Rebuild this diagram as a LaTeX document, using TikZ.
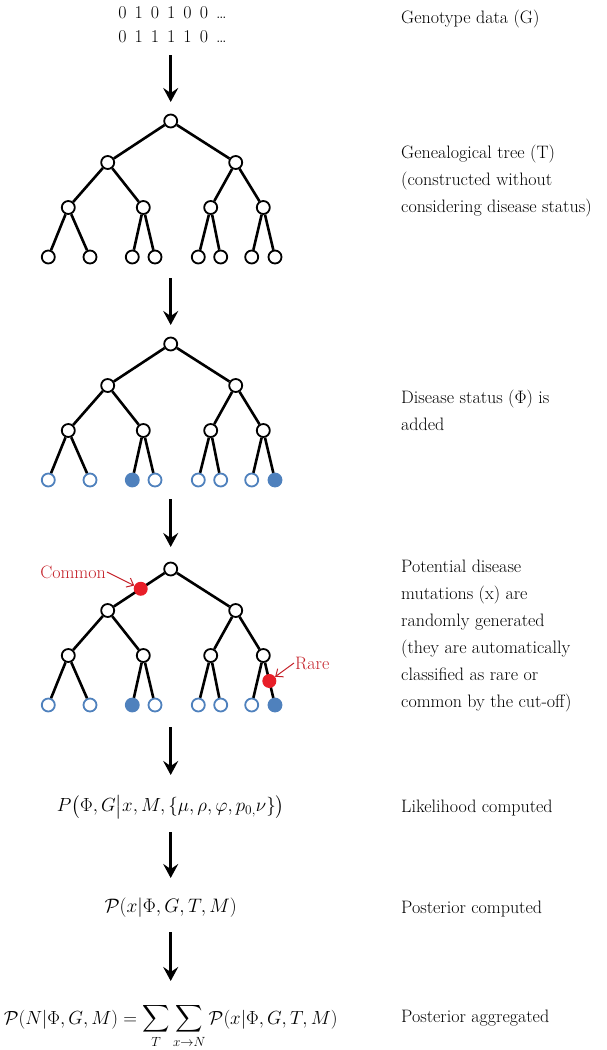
\documentclass[tikz,border=0pt]{standalone}
\usepackage{fix-cm}
\usepackage{amssymb,amsmath}
\usetikzlibrary{arrows.meta,calc}
\definecolor{statblue}{RGB}{79,129,189}
\definecolor{mutred}{RGB}{232,30,40}
\definecolor{lblred}{RGB}{196,32,40}
\newcommand{\gsep}{\hspace{8pt}}
\begin{document}
\begin{tikzpicture}[x=1pt, y=-1pt, every node/.style={font=\fontsize{18}{27}\selectfont},
  tnode/.style={circle, draw=black, line width=1.8pt, fill=white, minimum size=13pt, inner sep=0pt},
  lopen/.style={tnode, draw=statblue},
  lfill/.style={tnode, draw=statblue, fill=statblue},
  branch/.style={line width=2.6pt},
  flow/.style={line width=2.8pt, -{Stealth[length=14pt, width=15pt, inset=5pt]}},
  mut/.style={circle, fill=mutred, minimum size=14pt, inner sep=0pt},
  pointer/.style={lblred, line width=1pt, -{Straight Barb[length=6pt, width=10pt]}},
  formula/.style={font=\fontsize{19}{27}\selectfont},
  desc/.style={anchor=north west, align=left, inner sep=0pt}]
\useasboundingbox (0,0) rectangle (607,1050);
% Draw genotype rows
\node (geno1) at (172.5,13) {0\gsep1\gsep0\gsep1\gsep0\gsep0\gsep\dots};
\node (geno2) at (172.5,37) {0\gsep1\gsep1\gsep1\gsep1\gsep0\gsep\dots};
% Draw trees
\foreach \t/\y/\lo/\lf in {a/121/tnode/tnode, b/344/lopen/lfill, c/569/lopen/lfill}{
  \node[tnode] (\t0) at (170.7,\y) {};
  \node[tnode] (\t1) at (107.7,\y+41.5) {};
  \node[tnode] (\t2) at (235.7,\y+41.5) {};
  \node[tnode] (\t3) at (68.3,\y+86.5) {};
  \node[tnode] (\t4) at (143.3,\y+86.5) {};
  \node[tnode] (\t5) at (210.7,\y+86.5) {};
  \node[tnode] (\t6) at (263.3,\y+86.5) {};
  \node[\lo] (\t7) at (48.3,\y+136) {};
  \node[\lo] (\t8) at (90,\y+136) {};
  \node[\lf] (\t9) at (132.3,\y+136) {};
  \node[\lo] (\t10) at (155,\y+136) {};
  \node[\lo] (\t11) at (198.3,\y+136) {};
  \node[\lo] (\t12) at (220.7,\y+136) {};
  \node[\lo] (\t13) at (251.7,\y+136) {};
  \node[\lf] (\t14) at (275,\y+136) {};
  \coordinate (\t-bot) at (170.7,\y+136);
  \draw[branch] (\t0)--(\t1) (\t0)--(\t2) (\t1)--(\t3) (\t1)--(\t4) (\t2)--(\t5) (\t2)--(\t6)
    (\t3)--(\t7) (\t3)--(\t8) (\t4)--(\t9) (\t4)--(\t10) (\t5)--(\t11) (\t5)--(\t12)
    (\t6)--(\t13) (\t6)--(\t14);
}
% Draw mutations
\node[mut] (common) at ($(c0)!0.476!(c1)$) {};
\node[mut] (rare) at ($(c6)!0.515!(c14)$) {};
\node[text=lblred, anchor=east, inner sep=1pt] (commonlbl) at (107,572) {Common};
\node[text=lblred, anchor=west, inner sep=1pt] (rarelbl) at (294,663) {Rare};
\draw[pointer] (commonlbl.east) -- (common);
\draw[pointer] (rarelbl.west) -- (rare);
% Draw formulas
\node[formula] (lik) at (170.7,807) {$P\bigl(\Phi,G\big|x,M,\{\mu,\rho,\varphi,p_{0,}\nu\}\bigr)$};
\node[formula, font=\fontsize{19.5}{27}\selectfont] (post) at (170.7,908) {$\mathcal{P}(x|\Phi,G,T,M)$};
\node[formula, anchor=base] (agg) at (170.7,1024) {$\displaystyle\mathcal{P}(N|\Phi,G,M)=\sum_{T}\sum_{x\to N}\mathcal{P}(x|\Phi,G,T,M)$};
% Draw arrows
\draw[flow, shorten <=18pt, shorten >=19pt] (a0 |- geno2.center) -- (a0.center);
\draw[flow, shorten <=21pt, shorten >=19pt] (a-bot) -- (b0.center);
\draw[flow, shorten <=19pt, shorten >=22pt] (b-bot) -- (c0.center);
\draw[flow, shorten <=22pt, shorten >=32pt] (c-bot) -- (lik.center);
\draw[flow, shorten <=25pt, shorten >=30pt] (lik.center) -- (post.center);
\draw[flow, shorten <=24pt, shorten >=43pt] (post.center) -- (agg.base);
% Draw labels
\node[desc] (dgeno) at (401,9.5) {Genotype data (G)};
\node[desc] (dtree) at (401,144.5) {Genealogical tree (T)\\(constructed without\\considering disease status)};
\node[desc] (dstat) at (401,389.5) {Disease status ($\Phi$) is\\added};
\node[desc] (dmut) at (401,559.5) {Potential disease\\mutations (x) are\\randomly generated\\(they are automatically\\classified as rare or\\common by the cut-off)};
\node[desc] (dlik) at (401,799.5) {Likelihood computed};
\node[desc] (dpost) at (401,900.5) {Posterior computed};
\node[desc] (dagg) at (401,1009.5) {Posterior aggregated};
\end{tikzpicture}
\end{document}
